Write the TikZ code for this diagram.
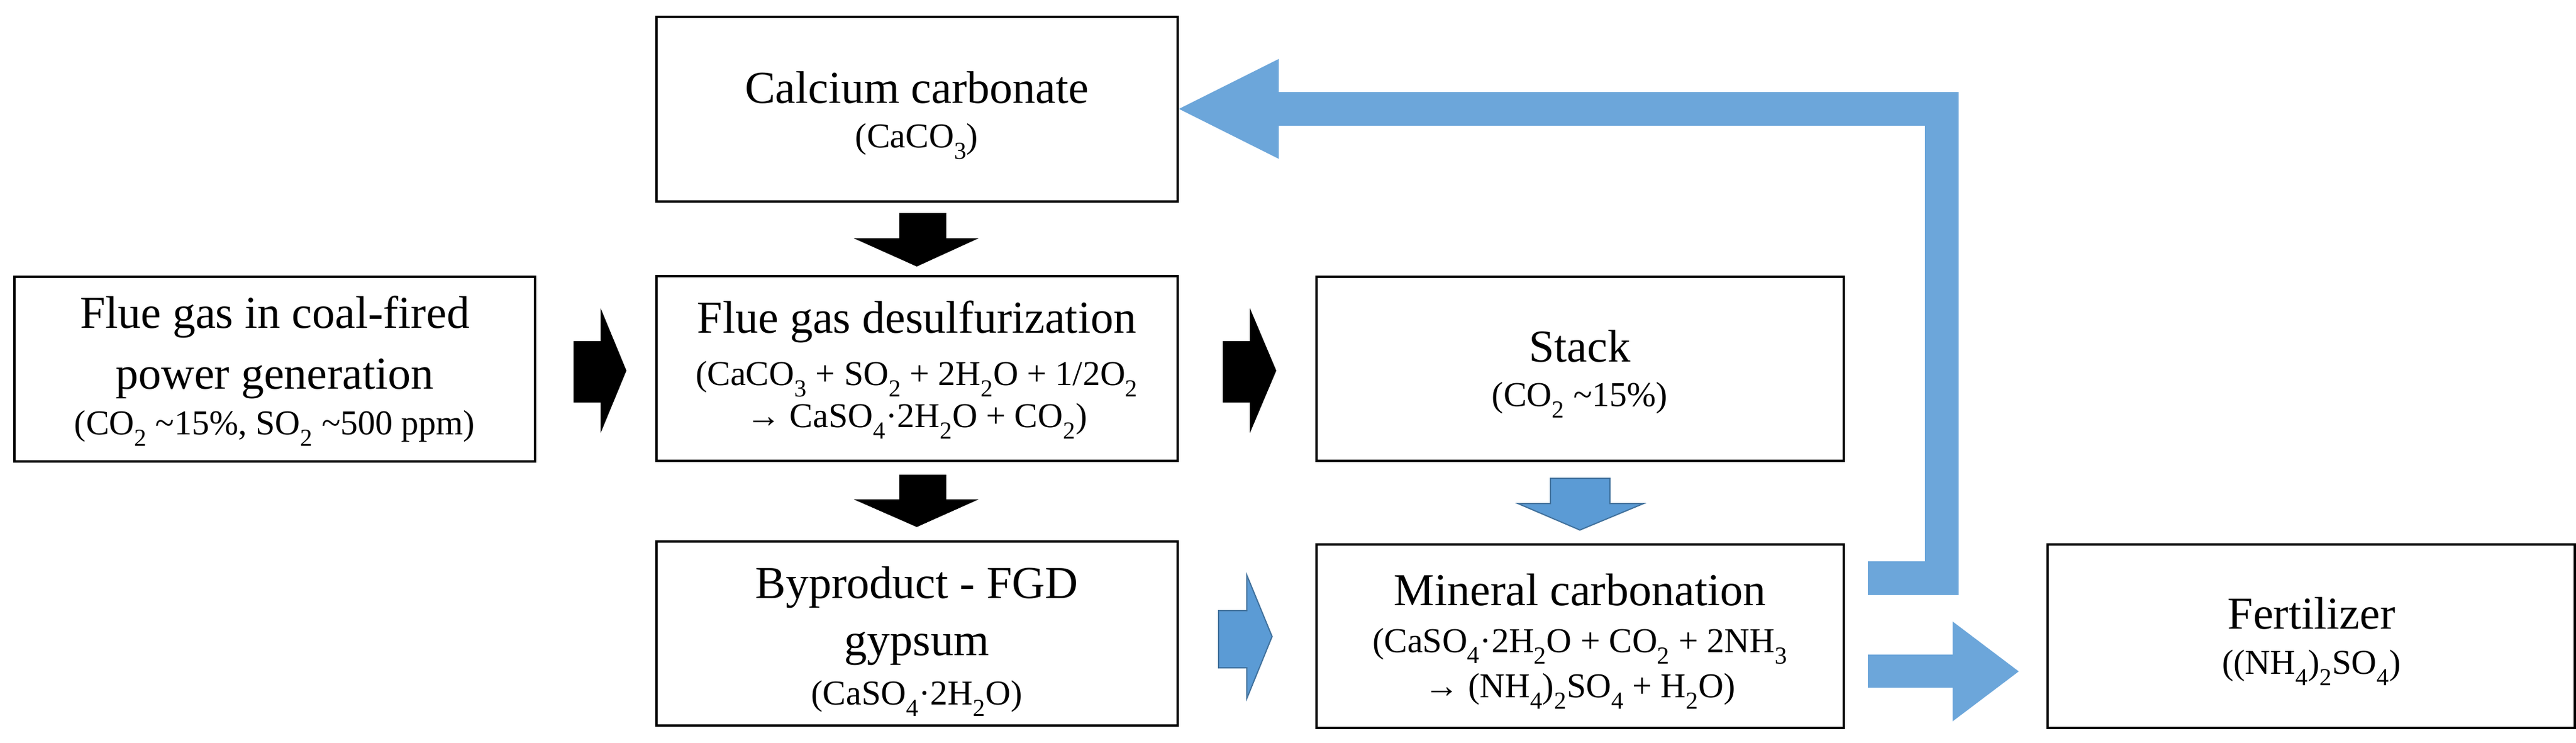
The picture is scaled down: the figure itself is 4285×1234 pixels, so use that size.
\documentclass[tikz,border=0pt]{standalone}
\usepackage{fontspec}
\setmainfont{Liberation Serif}
\begin{document}
\begin{tikzpicture}[x=1pt,y=-1pt,
  box/.style={draw,line width=4pt,inner sep=0pt},
  big/.style={font=\fontsize{76}{80}\selectfont,inner sep=0pt},
  sm/.style={font=\fontsize{58}{62}\selectfont,inner sep=0pt},
  blk/.style={fill=black},
  lb/.style={fill=lblue},
  db/.style={fill=dblue,draw=dbord,line width=2pt}]
\definecolor{lblue}{HTML}{6CA6DA}
\definecolor{dblue}{HTML}{5B9BD5}
\definecolor{dbord}{HTML}{41719C}
\useasboundingbox (0,0) rectangle (4285,1234);
\newcommand{\bx}[5]{\node[box,minimum width=#4-#2,minimum height=#5-#3] (#1) at ({(#2+#4)/2},{(#3+#5)/2}) {};}
\bx{cal}{1092}{28}{1959}{335}
\bx{flue}{24}{460}{890}{767}
\bx{fgd}{1092}{459}{1959}{766}
\bx{byp}{1092}{900}{1959}{1206}
\bx{stk}{2190}{460}{3067}{766}
\bx{min}{2190}{905}{3067}{1210}
\bx{fer}{3406}{905}{4283}{1210}
% texts
\node[big] (t1) at (1525,146) {Calcium carbonate};
\node[sm] (t2) at (1525,235) {(CaCO\textsubscript{3})};
\node[big] (t3) at (457,527) {Flue gas in coal-fired};
\node[big] (t4) at (457,630) {power generation};
\node[sm] (t5) at (457,712) {(CO\textsubscript{2} \textasciitilde15\%, SO\textsubscript{2} \textasciitilde500 ppm)};
\node[big] (t6) at (1525,535) {Flue gas desulfurization};
\node[sm] (t7) at (1525,630) {(CaCO\textsubscript{3} + SO\textsubscript{2} + 2H\textsubscript{2}O + 1/2O\textsubscript{2}};
\node[sm] (t8) at (1525,700) {→ CaSO\textsubscript{4}·2H\textsubscript{2}O + CO\textsubscript{2})};
\node[big] (t9) at (1525,976) {Byproduct - FGD};
\node[big] (t10) at (1525,1078) {gypsum};
\node[sm] (t11) at (1525,1161) {(CaSO\textsubscript{4}·2H\textsubscript{2}O)};
\node[big] (t12) at (2628,575) {Stack};
\node[sm] (t13) at (2628,665) {(CO\textsubscript{2} \textasciitilde15\%)};
\node[big] (t14) at (2628,980) {Mineral carbonation};
\node[sm] (t15) at (2628,1074) {(CaSO\textsubscript{4}·2H\textsubscript{2}O + CO\textsubscript{2} + 2NH\textsubscript{3}};
\node[sm] (t16) at (2628,1149) {→ (NH\textsubscript{4})\textsubscript{2}SO\textsubscript{4} + H\textsubscript{2}O)};
\node[big] (t17) at (3845,1019) {Fertilizer};
\node[sm] (t18) at (3845,1110) {((NH\textsubscript{4})\textsubscript{2}SO\textsubscript{4})};
% black arrows
\fill[blk] (1496,354) -- (1574,354) -- (1574,396) -- (1628,396) -- (1525,443) -- (1420,396) -- (1496,396) -- cycle;
\fill[blk] (1496,789) -- (1574,789) -- (1574,830) -- (1628,830) -- (1525,876) -- (1420,830) -- (1496,830) -- cycle;
\fill[blk] (954,567) -- (999,567) -- (999,512) -- (1042,616) -- (999,720) -- (999,669) -- (954,669) -- cycle;
\fill[blk] (2034,567) -- (2079,567) -- (2079,512) -- (2123,616) -- (2079,720) -- (2079,669) -- (2034,669) -- cycle;
% blue arrows
\draw[db] (2027,1015) -- (2074,1015) -- (2074,956) -- (2116,1058) -- (2074,1161) -- (2074,1110) -- (2027,1110) -- cycle;
\draw[db] (2579,795) -- (2678,795) -- (2678,837) -- (2734,837) -- (2628,881) -- (2525,837) -- (2579,837) -- cycle;
\fill[lb] (3107,1088) -- (3248,1088) -- (3248,1033) -- (3358,1116) -- (3248,1199) -- (3248,1143) -- (3107,1143) -- cycle;
\fill[lb] (3107,933) -- (3202,933) -- (3202,209) -- (2127,209) -- (2127,264) -- (1961,181) -- (2127,98) -- (2127,153) -- (3258,153) -- (3258,989) -- (3107,989) -- cycle;
\end{tikzpicture}
\end{document}
